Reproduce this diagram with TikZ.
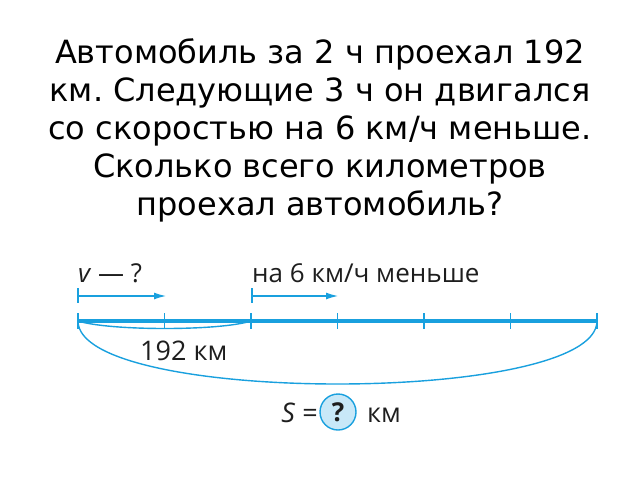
\documentclass[tikz,border=0pt]{standalone}
\usepackage{fontspec}
\setmainfont{DejaVu Sans}
\newfontfamily\schemefont{Open Sans}
\usetikzlibrary{arrows.meta}
\definecolor{lineblue}{RGB}{25,160,222}
\definecolor{circfill}{RGB}{200,232,248}
\definecolor{labelgray}{RGB}{30,30,30}
\frenchspacing

\begin{document}
\begin{tikzpicture}[x=1pt,y=-1pt,
    segline/.style={draw=lineblue, line width=4pt},
    tickline/.style={draw=lineblue, line width=1.2pt},
    arcline/.style={draw=lineblue, line width=1.4pt},
    speed/.style={draw=lineblue, line width=1.2pt, -{Latex[length=12pt,width=7pt]}},
    lbl/.style={font=\schemefont\fontsize{26}{30}\selectfont, text=labelgray, inner sep=0pt},
    biglbl/.style={font=\schemefont\fontsize{27}{32}\selectfont, text=labelgray, inner sep=0pt}]
    \useasboundingbox (0,0) rectangle (640,480);
    % task text
    \node[font=\fontsize{32}{38}\selectfont, align=center] (Q) at (320,130)
        {Автомобиль за 2 ч проехал 192\\км. Следующие 3 ч он двигался\\со скоростью на 6 км/ч меньше.\\Сколько всего километров\\проехал автомобиль?};
    % segment points
    \coordinate (T0) at (78,321);
    \coordinate (T1) at (164.5,321);
    \coordinate (T2) at (251,321);
    \coordinate (T3) at (337.5,321);
    \coordinate (T4) at (424,321);
    \coordinate (T5) at (510.5,321);
    \coordinate (T6) at (597,321);
    \draw[segline] (T0) -- (T6);
    \draw[tickline] ([yshift=8pt]T0) -- ([yshift=-8pt]T0);
    \draw[tickline] ([yshift=8pt]T1) -- ([yshift=-8pt]T1);
    \draw[tickline] ([yshift=8pt]T2) -- ([yshift=-8pt]T2);
    \draw[tickline] ([yshift=8pt]T3) -- ([yshift=-8pt]T3);
    \draw[tickline] ([yshift=8pt]T4) -- ([yshift=-8pt]T4);
    \draw[tickline] ([yshift=8pt]T5) -- ([yshift=-8pt]T5);
    \draw[tickline] ([yshift=8pt]T6) -- ([yshift=-8pt]T6);
    % speed arrows
    \coordinate (V0) at (78,296);
    \coordinate (V1) at (166,296);
    \coordinate (W0) at (252,296);
    \coordinate (W1) at (338,296);
    \draw[speed] (V0) -- (V1);
    \draw[speed] (W0) -- (W1);
    \draw[tickline] ([yshift=8pt]V0) -- ([yshift=-7pt]V0);
    \draw[tickline] ([yshift=8pt]W0) -- ([yshift=-7pt]W0);
    \node[lbl, anchor=base west] (vq) at (78,282) {\textit{v} — ?};
    \node[lbl, anchor=base west] (less) at (252,282) {на 6 км/ч меньше};
    % arcs
    \draw[arcline] (T0) .. controls (110,331) and (220,331) .. (T2);
    \draw[arcline] (T0) .. controls (78,405) and (597,405) .. (T6);
    \node[biglbl, anchor=base west] (dist) at (140,360) {192 км};
    % total distance
    \node[biglbl, anchor=base east] (seq) at (318,422) {\textit{S} =};
    \node[shape=circle, draw=lineblue, fill=circfill, line width=1.4pt, minimum size=36pt, inner sep=0pt,
          font=\schemefont\bfseries\fontsize{26}{28}\selectfont, text=labelgray] (qc) at (338,412) {?};
    \node[biglbl, anchor=base west] (skm) at (367,422) {км};
\end{tikzpicture}
\end{document}
